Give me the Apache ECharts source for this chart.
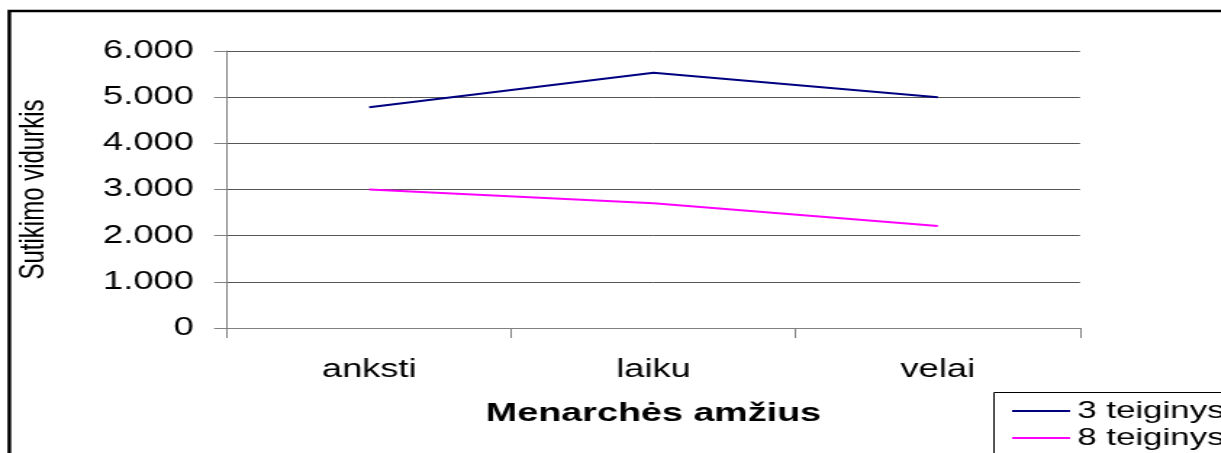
<!DOCTYPE html>
<html>
<head>
<meta charset="utf-8">
<script src="https://cdn.jsdelivr.net/npm/echarts@6/dist/echarts.min.js"></script>
<style>
html,body{margin:0;padding:0;background:#fff;overflow:hidden;}
/* originalas ištemptas horizontaliai ~1.45 karto */
#chart{width:842px;height:453px;transform:scaleX(1.45);transform-origin:0 0;}
</style>
</head>
<body>
<div id="chart"></div>
<script>
// duomenys
var categories = ['anksti', 'laiku', 'velai'];
var seriesNames = ['3 teiginys', '8 teiginys'];
var teiginys3 = [4.78, 5.53, 5.0];
var teiginys8 = [3.0, 2.7, 2.21];
var yTicks = [0, 1, 2, 3, 4, 5, 6];

var chart = echarts.init(document.getElementById('chart'));
var font = '"Liberation Sans", Arial, sans-serif';

var option = {
    animation: false,
    backgroundColor: '#fff',
    textStyle: {fontFamily: font},
    graphic: [{
        type: 'rect',   //išorinis rėmelis
        shape: {x: 6.4, y: 11, width: 1000, height: 600},
        style: {fill: 'none', stroke: '#000', lineWidth: 2.5},
        silent: true
    }, {
        type: 'rect',   //legendos rėmelis
        shape: {x: 685.5, y: 392.5, width: 300, height: 200},
        style: {fill: 'none', stroke: '#000', lineWidth: 1},
        silent: true
    }],
    grid: {left: 156.6, right: 97.2, top: 51, bottom: 125},  //plot zona
    legend: {
        orient: 'vertical',
        left: 686,
        top: 392,
        height: 120,
        padding: [7, 0, 0, 12],
        itemWidth: 40,
        itemHeight: 2,
        itemGap: 3,
        icon: 'rect',
        data: seriesNames,
        textStyle: {fontFamily: font, fontSize: 24, color: '#000', lineHeight: 24}
    },
    xAxis: {
        type: 'category',
        data: categories,
        boundaryGap: true,
        name: 'Menarchės amžius',
        nameLocation: 'middle',
        nameGap: 73,
        nameTextStyle: {fontFamily: font, fontSize: 26, fontWeight: 'bold', color: '#000'},
        axisLine: {lineStyle: {color: '#808080', width: 1}},
        axisTick: {show: true, length: 10, alignWithLabel: false, lineStyle: {color: '#808080'}},
        axisLabel: {fontFamily: font, fontSize: 25, color: '#000', margin: 30}
    },
    yAxis: {
        type: 'value',
        min: 0,
        max: 6,
        interval: 1,
        name: 'Sutikimo vidurkis',
        nameLocation: 'middle',
        nameGap: 121,
        nameTextStyle: {fontFamily: font, fontSize: 24, color: '#000'},
        axisLine: {show: true, lineStyle: {color: '#808080', width: 1}},
        axisTick: {show: true, length: 9, lineStyle: {color: '#808080'}},
        splitLine: {lineStyle: {color: '#555', width: 1}},
        axisLabel: {
            fontFamily: font, fontSize: 25, color: '#000', margin: 23,
            formatter: function (v) {
                if (yTicks.indexOf(v) < 0) return '';
                return v === 0 ? '0' : v + '.000';
            }
        }
    },
    series: [{
        name: seriesNames[0],
        type: 'line',
        data: teiginys3,
        symbol: 'none',
        itemStyle: {color: '#000080'},
        lineStyle: {color: '#000080', width: 2}
    }, {
        name: seriesNames[1],
        type: 'line',
        data: teiginys8,
        symbol: 'none',
        itemStyle: {color: '#ff00ff'},
        lineStyle: {color: '#ff00ff', width: 2}
    }]
};
chart.setOption(option);
</script>
</body>
</html>
